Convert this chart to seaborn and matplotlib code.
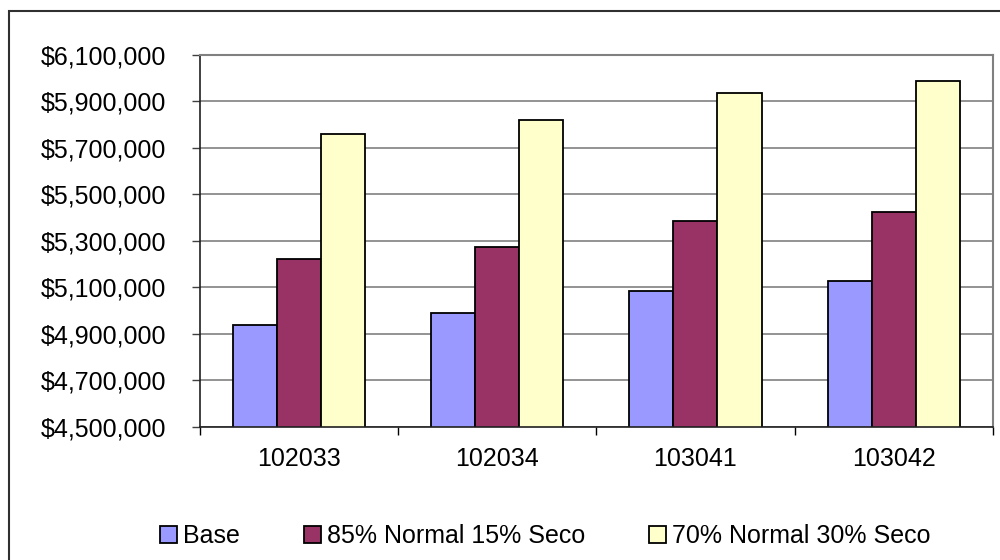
import matplotlib
matplotlib.use("Agg")
import matplotlib.pyplot as plt
import seaborn as sns
import pandas as pd
from matplotlib.patches import Rectangle, Patch
from matplotlib.ticker import FuncFormatter, FixedLocator

categories = ["102033", "102034", "103041", "103042"]
series_names = ["Base", "85% Normal 15% Seco", "70% Normal 30% Seco"]
base = [4935000, 4987000, 5083000, 5126000]
mix85 = [5222000, 5274000, 5387000, 5422000]
mix70 = [5761000, 5820000, 5935000, 5987000]
yticks = [4500000, 4700000, 4900000, 5100000, 5300000, 5500000, 5700000, 5900000, 6100000]
colors = ["#9999FF", "#993366", "#FFFFCC"]

rows = []
for name, vals in zip(series_names, [base, mix85, mix70]):
    for c, v in zip(categories, vals):
        rows.append({"cat": c, "series": name, "value": v})
df = pd.DataFrame(rows)

sns.set_style("white")
plt.rcParams["font.family"] = ["Liberation Sans", "DejaVu Sans"]
plt.rcParams["text.color"] = "black"
plt.rcParams["xtick.color"] = "black"
plt.rcParams["ytick.color"] = "black"

FS = 18
fig = plt.figure(figsize=(10, 5.6), dpi=100)
W, H = 1000, 560
ax = fig.add_axes([199.5 / W, 1 - 426.5 / H, (993 - 199.5) / W, (426.5 - 55) / H])

sns.barplot(data=df, x="cat", y="value", hue="series", palette=colors,
            order=categories, hue_order=series_names, width=2 / 3, gap=0,
            edgecolor="black", linewidth=1.3, saturation=1, ax=ax, legend=False)

ax.set_ylim(yticks[0], yticks[-1])
ax.set_xlim(-0.5, 3.5)
ax.yaxis.set_major_locator(FixedLocator(yticks))
ax.yaxis.set_major_formatter(FuncFormatter(lambda v, p: "${:,.0f}".format(v)))
ax.grid(axis="y", color="#808080", linewidth=1.2)
ax.set_axisbelow(True)
ax.set_xlabel("")
ax.set_ylabel("")

ax.xaxis.set_minor_locator(FixedLocator([-0.5, 0.5, 1.5, 2.5, 3.5]))
ax.tick_params(axis="x", which="major", length=0, pad=15, labelsize=FS, labelcolor="black")
ax.tick_params(axis="x", which="minor", length=6, width=1, color="black", direction="out", bottom=True)
ax.tick_params(axis="y", length=6, width=1, color="#404040", direction="out", left=True, pad=18,
               labelsize=FS, labelcolor="black")

for s in ["left", "bottom"]:
    ax.spines[s].set_color("#202020")
    ax.spines[s].set_linewidth(1.2)
for s in ["top", "right"]:
    ax.spines[s].set_color("#808080")
    ax.spines[s].set_linewidth(1.5)

handles = [Patch(facecolor=c, edgecolor="black", linewidth=1.3) for c in colors]
fig.legend(handles, series_names, loc="center", bbox_to_anchor=(545 / W, 1 - 536 / H),
           ncol=3, frameon=False, fontsize=FS, handlelength=0.68, handleheight=0.68,
           handletextpad=0.24, columnspacing=2.56, labelcolor="black",
           borderpad=0, borderaxespad=0)

fig.add_artist(Rectangle((9 / W, -0.1), 1.2, 1 - 11 / H + 0.1, transform=fig.transFigure,
                         fill=False, edgecolor="#303030", linewidth=1.5))

fig.savefig("out.png", dpi=100)
